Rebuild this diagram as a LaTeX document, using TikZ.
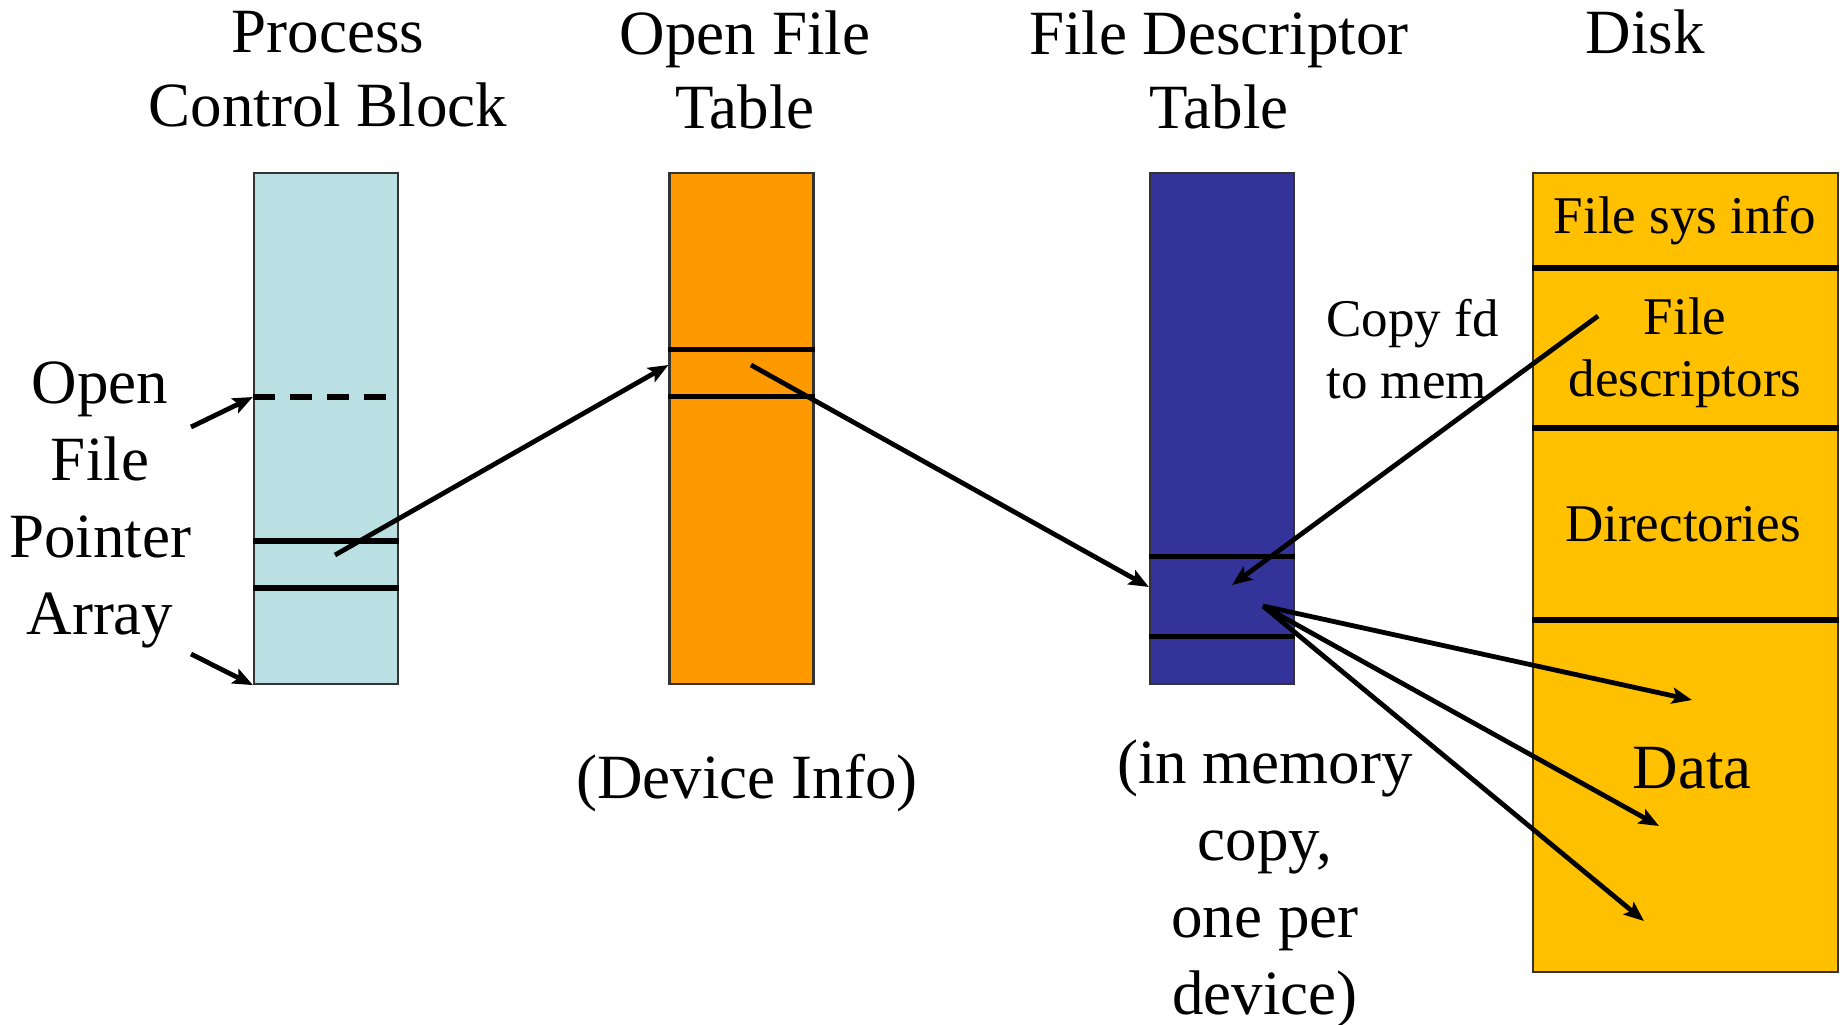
\documentclass[tikz,border=0pt]{standalone}
\usepackage{fontspec}
\setmainfont{Liberation Serif}
\usetikzlibrary{arrows.meta}
\definecolor{pcbblue}{RGB}{186,224,227}
\definecolor{oftorange}{RGB}{255,153,0}
\definecolor{fdtblue}{RGB}{51,51,153}
\definecolor{diskgold}{RGB}{255,192,0}

\begin{document}
\begin{tikzpicture}[x=0.5pt, y=-0.5pt,
	column/.style={draw=black!80, line width=1.1pt, minimum width=72pt, minimum height=255.5pt, inner sep=0pt},
	divider/.style={line width=2.6pt},
	pointer/.style={-{Stealth[length=10pt, width=8pt, inset=2pt]}, line width=2.4pt},
	big/.style={font=\fontsize{31.5}{38.5}\selectfont, align=center, inner sep=0pt},
	title/.style={big, font=\fontsize{31.5}{37}\selectfont},
	small/.style={font=\fontsize{26.5}{31}\selectfont, align=center, inner sep=0pt},
	]
	\useasboundingbox (0,0) rectangle (1845,1024);

	\node[title, anchor=north] (pcbtitle) at (328,11) {Process\\Control Block};
	\node[title, anchor=north] (ofttitle) at (745,10) {Open File\\Table};
	\node[title, anchor=north] (fdttitle) at (1219,10) {File Descriptor\\Table};
	\node[title, anchor=base] (disktitle) at (1645,53) {Disk};

	\node[column, fill=pcbblue] (pcb) at (326,428.5) {};
	\node[column, fill=oftorange] (oft) at (741.5,428.5) {};
	\node[column, fill=fdtblue] (fdt) at (1222,428.5) {};
	\node[column, fill=diskgold, minimum width=152.5pt, minimum height=399.5pt] (disk) at (1685.5,572.5) {};

	\draw[divider, dash pattern=on 11pt off 7.5pt] (pcb.west |- 0,397) -- (388,397);
	\draw[divider] (pcb.west |- 0,541) -- (pcb.east |- 0,541);
	\draw[divider] (pcb.west |- 0,588) -- (pcb.east |- 0,588);
	\draw[divider] (oft.west |- 0,349.5) -- (oft.east |- 0,349.5);
	\draw[divider] (oft.west |- 0,396.5) -- (oft.east |- 0,396.5);
	\draw[divider] (fdt.west |- 0,556.5) -- (fdt.east |- 0,556.5);
	\draw[divider] (fdt.west |- 0,636.5) -- (fdt.east |- 0,636.5);
	\foreach \y in {268,428,620}
		\draw[divider] (disk.west |- 0,\y) -- (disk.east |- 0,\y);

	\node[big, anchor=north] (ptrlabel) at (100,361) {Open\\File\\Pointer\\Array};
	\node[big, anchor=base] (devinfo) at (747,798) {(Device Info)};
	\node[big, anchor=north] (memcopy) at (1265,739) {(in memory\\copy,\\one per\\device)};
	\node[small, anchor=north west, align=left] (copyfd) at (1326,299) {Copy fd\\to mem};
	\node[small, anchor=base] (sysinfo) at (1685,233) {File sys info};
	\node[small, anchor=north] (fdesc) at (1685,297) {File\\descriptors};
	\node[small, anchor=base] (dirs) at (1683,541) {Directories};
	\node[big, anchor=base] (data) at (1692,788) {Data};

	\coordinate (ptrtop) at (191,427);
	\coordinate (ptrbot) at (191,654);
	\coordinate (pcbslot) at (335,555);
	\coordinate (oftslot) at (751,365);
	\coordinate (fdtslot) at (1263,606);
	\coordinate (fdttip) at (1232,585);
	\coordinate (fdsrc) at (1598,316);
	\coordinate (data1) at (1692,700);
	\coordinate (data2) at (1659,826);
	\coordinate (data3) at (1644,921);

	\draw[pointer] (ptrtop) -- (pcb.west |- 0,397);
	\draw[pointer] (ptrbot) -- (pcb.south west);
	\draw[pointer] (pcbslot) -- (oft.west |- 0,365);
	\draw[pointer] (oftslot) -- (fdt.west |- 0,587);
	\draw[pointer] (fdsrc) -- (fdttip);
	\foreach \tgt in {data1,data2,data3}
		\draw[pointer] (fdtslot) -- (\tgt);

\end{tikzpicture}
\end{document}
